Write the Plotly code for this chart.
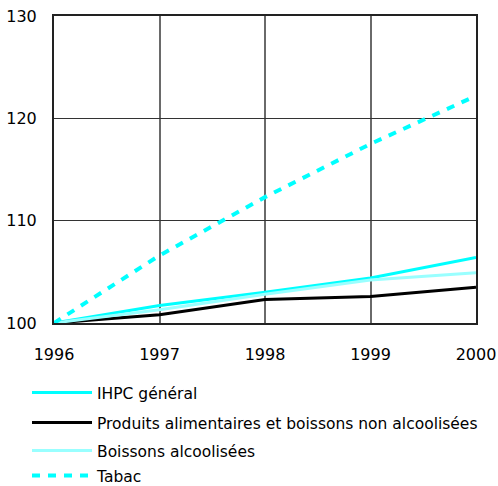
import plotly.graph_objects as go

years = [1996, 1997, 1998, 1999, 2000]
ihpc = [100.0, 101.7, 103.0, 104.4, 106.4]
alim = [100.0, 100.8, 102.3, 102.6, 103.5]
alcool = [100.0, 101.3, 102.8, 104.2, 104.9]
tabac = [100.0, 106.6, 112.3, 117.5, 122.2]

names = ["IHPC général", "Produits alimentaires et boissons non alcoolisées",
         "Boissons alcoolisées", "Tabac"]
series = [ihpc, alim, alcool, tabac]
colors = ["#00FFFF", "#000000", "#99FFFF", "#00FFFF"]
dashes = ["solid", "solid", "solid", "8px,8px"]
widths = [3, 3, 3, 4]
legends = ["legend", "legend2", "legend3", "legend4"]

W, H = 498, 486

fig = go.Figure()
for nm, ys, c, d, w, lg in zip(names, series, colors, dashes, widths, legends):
    fig.add_trace(go.Scatter(x=years, y=ys, name=nm, mode="lines",
                             line=dict(color=c, width=w, dash=d), legend=lg))

leg_common = dict(xref="container", yref="container", xanchor="left", yanchor="middle",
                  font=dict(size=15.5), itemwidth=60, bgcolor="rgba(0,0,0,0)",
                  borderwidth=0)
row_y = [393, 423, 451, 476]
layout_leg = {}
for lg, ry in zip(legends, row_y):
    layout_leg[lg] = dict(x=27 / W, y=1 - ry / H, **leg_common)

fig.update_layout(
    width=W, height=H,
    margin=dict(l=54, r=22, t=16, b=163, autoexpand=False),
    paper_bgcolor="white", plot_bgcolor="white",
    font=dict(family="DejaVu Sans", size=15, color="black"),
    showlegend=True,
    xaxis=dict(range=[1996, 2000], tickvals=years, ticktext=[str(y) for y in years],
               showgrid=True, gridcolor="#6a6a6a", gridwidth=1.5,
               showline=True, linecolor="#222222", linewidth=2, mirror=True,
               zeroline=False, ticks="outside", ticklen=16, tickcolor="rgba(0,0,0,0)",
               tickfont=dict(size=16), ticklabeloverflow="allow"),
    yaxis=dict(range=[100, 130], tickvals=[100, 110, 120, 130],
               showgrid=True, gridcolor="#333333", gridwidth=1,
               showline=True, linecolor="#222222", linewidth=2, mirror=True,
               zeroline=False, ticks="outside", ticklen=12, tickcolor="rgba(0,0,0,0)",
               tickfont=dict(size=16), ticklabeloverflow="allow"),
    **layout_leg,
)

fig.write_html("out.html", config={"displayModeBar": False},
               post_script="document.body.style.margin='0';document.body.style.overflow='hidden';")
